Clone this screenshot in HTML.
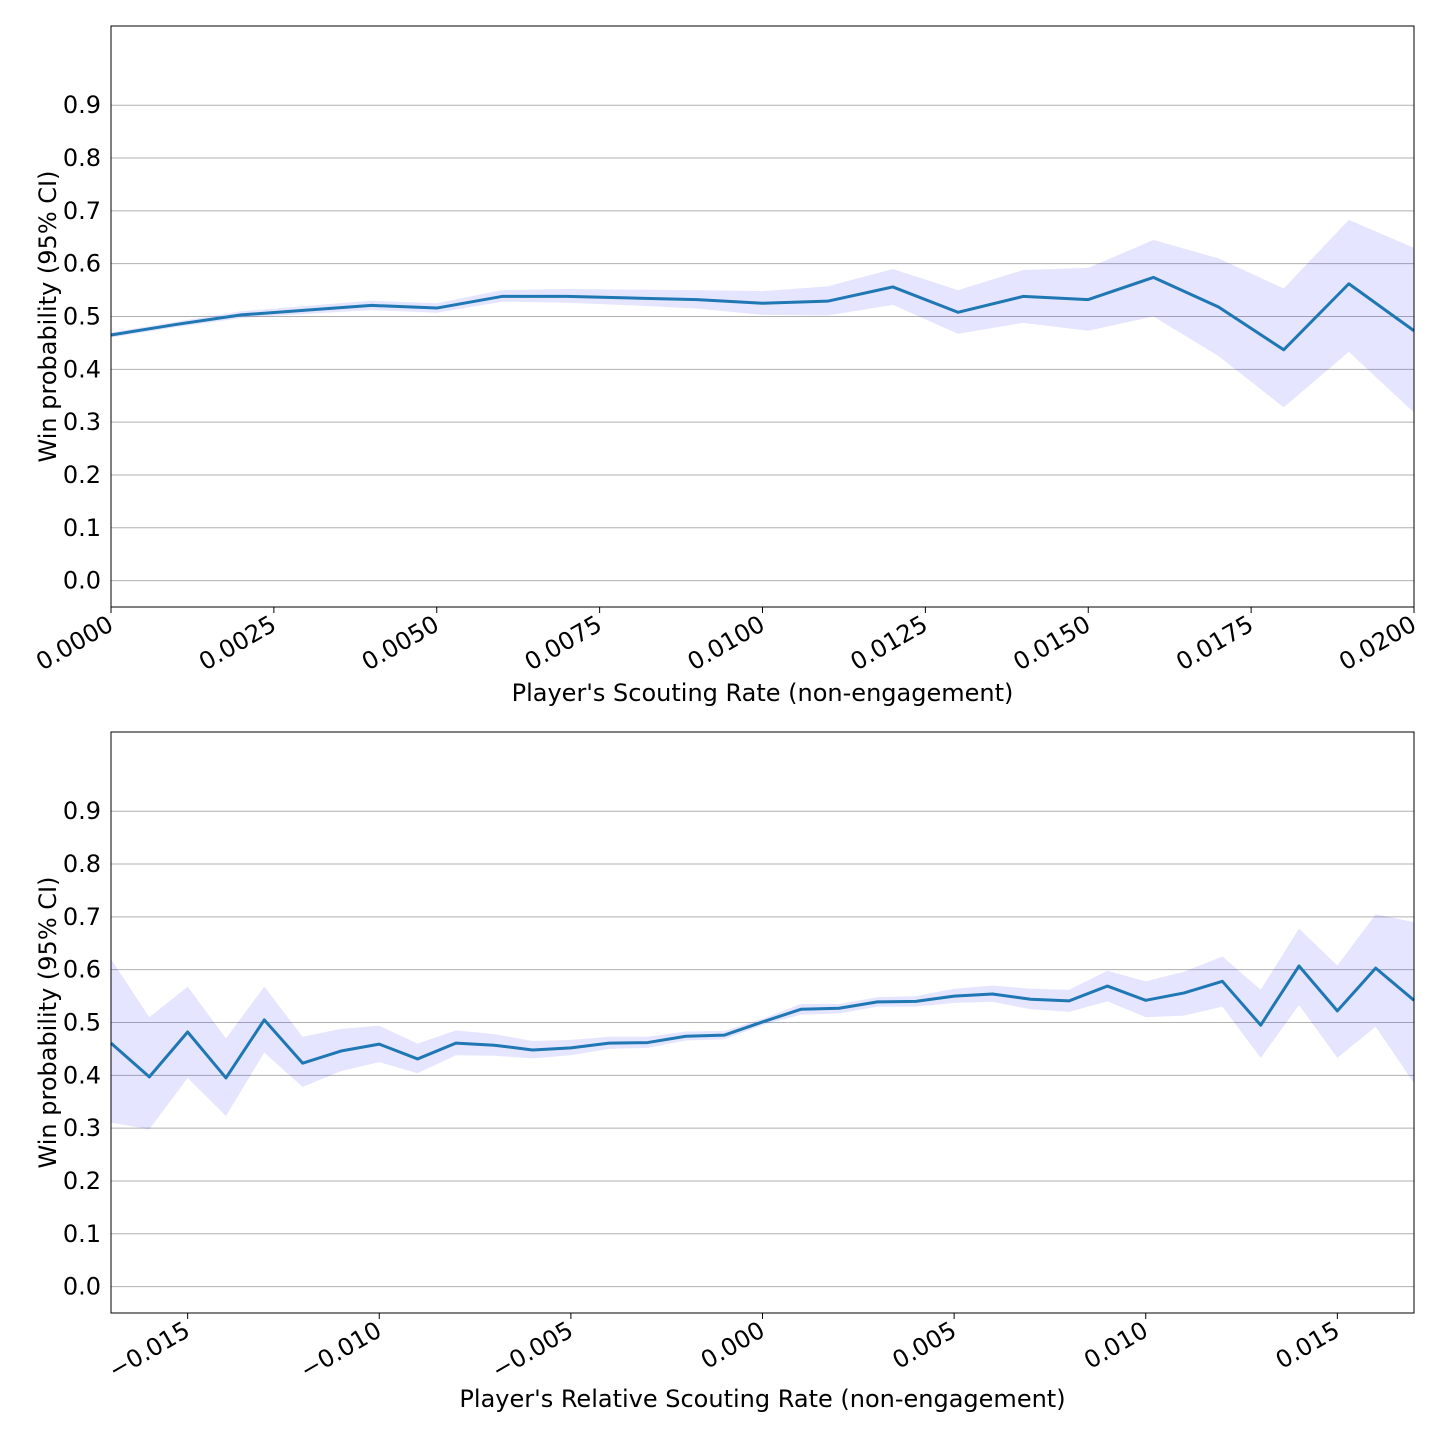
<!DOCTYPE html>
<html><head><meta charset="utf-8"><style>
html,body{margin:0;padding:0;background:#fff;}
svg text{font-family:"DejaVu Sans","Liberation Sans",sans-serif;fill:#000;}
</style></head><body>
<svg id="chart" width="1440" height="1440" viewBox="0 0 1440 1440" xmlns="http://www.w3.org/2000/svg"></svg>
<script>
// ---- Panel 1 data ----
const xs1 = [0,0.001,0.002,0.003,0.004,0.005,0.006,0.007,0.008,0.009,0.010,0.011,0.012,0.013,0.014,0.015,0.016,0.017,0.018,0.019,0.020];
const mean1 = [0.465,0.485,0.503,0.512,0.521,0.516,0.538,0.538,0.535,0.532,0.525,0.529,0.556,0.508,0.538,0.532,0.574,0.518,0.437,0.562,0.473];
const lo1 = [0.460,0.480,0.497,0.505,0.512,0.507,0.528,0.526,0.521,0.515,0.503,0.502,0.522,0.467,0.488,0.473,0.500,0.425,0.328,0.433,0.318];
const hi1 = [0.470,0.490,0.510,0.520,0.530,0.525,0.550,0.552,0.551,0.550,0.548,0.557,0.590,0.550,0.588,0.592,0.645,0.610,0.553,0.683,0.630];
const xticks1 = [0,0.0025,0.005,0.0075,0.01,0.0125,0.015,0.0175,0.02];
const xtickLabels1 = ["0.0000","0.0025","0.0050","0.0075","0.0100","0.0125","0.0150","0.0175","0.0200"];
// ---- Panel 2 data ----
const xs2 = [-0.017,-0.016,-0.015,-0.014,-0.013,-0.012,-0.011,-0.010,-0.009,-0.008,-0.007,-0.006,-0.005,-0.004,-0.003,-0.002,-0.001,0,0.001,0.002,0.003,0.004,0.005,0.006,0.007,0.008,0.009,0.010,0.011,0.012,0.013,0.014,0.015,0.016,0.017];
const mean2 = [0.461,0.397,0.482,0.395,0.505,0.423,0.446,0.459,0.431,0.461,0.457,0.448,0.452,0.461,0.462,0.474,0.476,0.501,0.525,0.527,0.539,0.540,0.550,0.554,0.544,0.541,0.569,0.542,0.556,0.578,0.495,0.607,0.522,0.603,0.542];
const lo2 = [0.310,0.298,0.395,0.323,0.443,0.378,0.408,0.425,0.404,0.438,0.437,0.432,0.438,0.450,0.452,0.466,0.468,0.495,0.515,0.517,0.530,0.530,0.537,0.539,0.525,0.520,0.540,0.510,0.513,0.530,0.433,0.533,0.433,0.492,0.385];
const hi2 = [0.620,0.510,0.568,0.470,0.568,0.473,0.488,0.494,0.460,0.485,0.478,0.465,0.467,0.473,0.473,0.483,0.484,0.507,0.535,0.535,0.548,0.550,0.564,0.570,0.564,0.562,0.598,0.578,0.596,0.625,0.562,0.678,0.608,0.705,0.690];
const xticks2 = [-0.015,-0.010,-0.005,0,0.005,0.010,0.015];
const xtickLabels2 = ["\u22120.015","\u22120.010","\u22120.005","0.000","0.005","0.010","0.015"];
const yticks = [0,0.1,0.2,0.3,0.4,0.5,0.6,0.7,0.8,0.9];
const ytickLabels = ["0.0","0.1","0.2","0.3","0.4","0.5","0.6","0.7","0.8","0.9"];

const NS = "http://www.w3.org/2000/svg";
const svg = document.getElementById('chart');
function mk(tag, attrs, parent){const e=document.createElementNS(NS,tag);for(const k in attrs)e.setAttribute(k,attrs[k]);(parent||svg).appendChild(e);return e;}

function panel(p){
  const L=111,R=1414,T=p.top,B=p.top+581;
  const xS=v=>L+(v-p.xmin)/(p.xmax-p.xmin)*(R-L);
  const yS=v=>B-(v+0.05)/1.1*(B-T);
  const g=mk('g',{});
  
  
  yticks.forEach((v,i)=>{
    const gl=mk('line',{x1:L,x2:R,y1:yS(v),y2:yS(v),stroke:'#b0b0b0','stroke-width':1},g);
    
    
    const t=mk('text',{x:L-10,y:yS(v)+8,'text-anchor':'end','font-size':24},g);
    t.textContent=ytickLabels[i];
    
    
  });
  let d='';
  p.xs.forEach((x,i)=>{d+=(i?'L':'M')+xS(x)+','+yS(p.hi[i]);});
  for(let i=p.xs.length-1;i>=0;i--) d+='L'+xS(p.xs[i])+','+yS(p.lo[i]);
  const band=mk('path',{d:d+'Z',fill:'rgba(0,0,255,0.1)',stroke:'none'},g);
  
  
  let dl='';
  p.xs.forEach((x,i)=>{dl+=(i?'L':'M')+xS(x)+','+yS(p.mean[i]);});
  const line=mk('path',{d:dl,fill:'none',stroke:'#1f77b4','stroke-width':3,'stroke-linejoin':'round'},g);
  
  
  const fr=mk('rect',{x:L,y:T,width:R-L,height:B-T,fill:'none',stroke:'#000','stroke-width':1},g);
  
  
  p.xticks.forEach((v,i)=>{
    const x=xS(v);
    mk('line',{x1:x,x2:x,y1:B,y2:B+6,stroke:'#000','stroke-width':1},g);
    const t=mk('text',{x:x+4,y:B+22,'text-anchor':'end','font-size':24,transform:`rotate(-30 ${x+4} ${B+22})`},g);
    t.textContent=p.xlabels[i];
    
    
  });
  const xt=mk('text',{x:(L+R)/2,y:B+94,'text-anchor':'middle','font-size':24},g);
  xt.textContent=p.xtitle;
  
  
  const cy=(T+B)/2;
  const yt=mk('text',{x:56,y:cy,'text-anchor':'middle','font-size':24,transform:`rotate(-90 56 ${cy})`},g);
  yt.textContent='Win probability (95% CI)';
  
  
}
panel({name:'scouting-rate-panel',top:26,xmin:0,xmax:0.02,xs:xs1,mean:mean1,lo:lo1,hi:hi1,xticks:xticks1,xlabels:xtickLabels1,xtitle:"Player's Scouting Rate (non-engagement)"});
panel({name:'relative-scouting-rate-panel',top:732,xmin:-0.017,xmax:0.017,xs:xs2,mean:mean2,lo:lo2,hi:hi2,xticks:xticks2,xlabels:xtickLabels2,xtitle:"Player's Relative Scouting Rate (non-engagement)"});
</script>
</body></html>
